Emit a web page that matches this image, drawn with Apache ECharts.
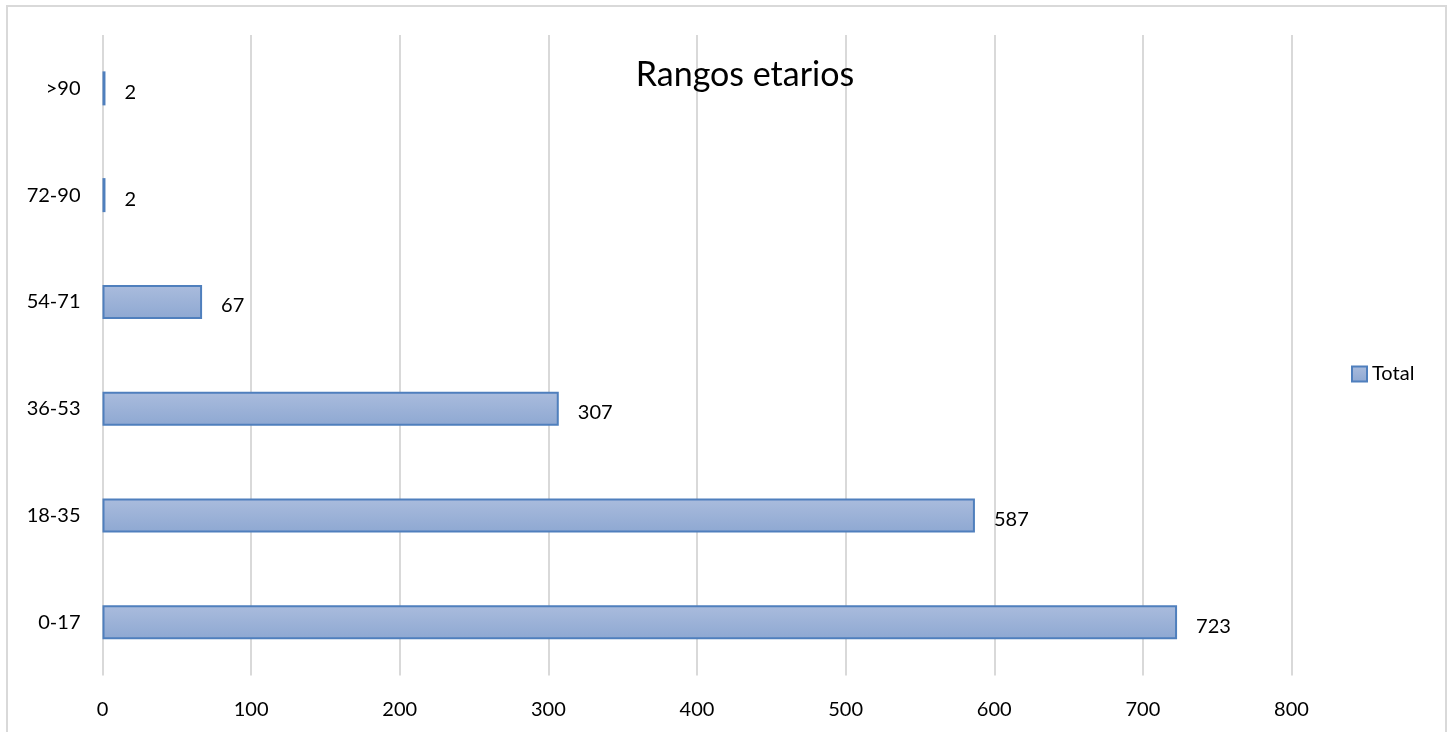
<!DOCTYPE html>
<html>
<head>
<meta charset="utf-8">
<script src="https://cdn.jsdelivr.net/npm/echarts@6/dist/echarts.min.js"></script>
<style>
  html, body { margin: 0; padding: 0; background: #ffffff; }
  #chart { width: 1448px; height: 732px; }
</style>
</head>
<body>
<div id="chart"></div>
<script>
// Age ranges, bottom to top
const categories = ['0-17', '18-35', '36-53', '54-71', '72-90', '>90'];
const totals = [723, 587, 307, 67, 2, 2];
const xTicks = [0, 100, 200, 300, 400, 500, 600, 700, 800];

const FONT = 'Lato, "Open Sans", sans-serif';

const chart = echarts.init(document.getElementById('chart'), null, { renderer: 'canvas' });

chart.setOption({
  backgroundColor: '#ffffff',
  animation: false,
  textStyle: { fontFamily: FONT },
  title: {
    text: 'Rangos etarios',
    left: 740,
    top: 53,
    textAlign: 'center',
    textStyle: { fontFamily: FONT, fontSize: 34, fontWeight: 'normal', color: '#000000' }
  },
  legend: {
    data: ['Total'],
    left: 1346,
    top: 359,
    orient: 'vertical',
    icon: 'rect',
    itemWidth: 15,
    itemHeight: 15,
    textStyle: { fontFamily: FONT, fontSize: 20, color: '#000000' }
  },
  grid: { left: 102.5, right: 156.5, top: 35, bottom: 56.5, containLabel: false },
  xAxis: {
    type: 'value',
    min: xTicks[0],
    max: xTicks[xTicks.length - 1],
    interval: xTicks[1] - xTicks[0],
    axisLine: { show: false },
    axisTick: { show: false },
    axisLabel: { fontFamily: FONT, fontSize: 20, color: '#000000', margin: 24 },
    splitLine: { show: true, lineStyle: { color: '#d9d9d9', width: 2 } }
  },
  yAxis: {
    type: 'category',
    data: categories,
    axisLine: { show: false },
    axisTick: { show: false },
    axisLabel: { fontFamily: FONT, fontSize: 20, color: '#000000', margin: 22 },
    splitLine: { show: false }
  },
  series: [{
    name: 'Total',
    type: 'bar',
    data: totals,
    barWidth: 34,
    itemStyle: {
      color: new echarts.graphic.LinearGradient(0, 0, 0, 1, [
        { offset: 0, color: '#aabcdd' },
        { offset: 1, color: '#8ea8d2' }
      ]),
      borderColor: '#4f7fbd',
      borderWidth: 2
    },
    label: {
      show: true,
      position: 'right',
      distance: 19,
      offset: [0, 4],
      fontFamily: FONT,
      fontSize: 20,
      color: '#000000'
    }
  }],
  graphic: [{
    type: 'rect',
    shape: { x: 7, y: 6, width: 1439, height: 740 },
    style: { fill: 'none', stroke: '#d9d9d9', lineWidth: 2 },
    silent: true,
    z: 100
  }]
});
</script>
</body>
</html>
